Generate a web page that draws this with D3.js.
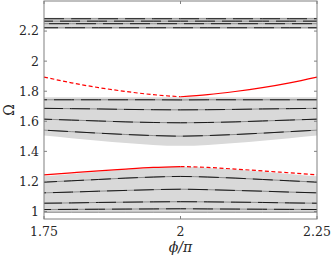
<!DOCTYPE html>
<html>
<head>
<meta charset="utf-8">
<script src="https://cdn.jsdelivr.net/npm/d3@7"></script>
<style>
  body { margin: 0; background: #fff; }
  svg { display: block; }
</style>
</head>
<body>
<div id="chart"></div>
<script>
var phi = [1.75, 1.8, 1.85, 1.9, 1.95, 2, 2.05, 2.1, 2.15, 2.2, 2.25];

// top band (flat)
var topBandLow = [2.216, 2.216, 2.216, 2.216, 2.216, 2.216, 2.216, 2.216, 2.216, 2.216, 2.216];
var topBandHigh = [2.289, 2.289, 2.289, 2.289, 2.289, 2.289, 2.289, 2.289, 2.289, 2.289, 2.289];
var topLines = [
  [2.282, 2.282, 2.282, 2.282, 2.282, 2.282, 2.282, 2.282, 2.282, 2.282, 2.282],
  [2.266, 2.266, 2.266, 2.266, 2.266, 2.266, 2.266, 2.266, 2.266, 2.266, 2.266],
  [2.249, 2.249, 2.249, 2.249, 2.249, 2.249, 2.249, 2.249, 2.249, 2.249, 2.249],
  [2.222, 2.222, 2.222, 2.222, 2.222, 2.222, 2.222, 2.222, 2.222, 2.222, 2.222]
];

// upper red curve (dashed for phi<2, solid for phi>2)
var upperRed = [1.894, 1.856, 1.824, 1.798, 1.777, 1.763, 1.777, 1.798, 1.824, 1.856, 1.894];

// middle band
var midBandHigh = [1.760, 1.760, 1.760, 1.760, 1.760, 1.760, 1.760, 1.760, 1.760, 1.760, 1.760];
var midBandLow = [1.505, 1.487, 1.470, 1.455, 1.443, 1.437, 1.443, 1.455, 1.470, 1.487, 1.505];
var midLines = [
  [1.743, 1.743, 1.743, 1.743, 1.743, 1.742, 1.743, 1.743, 1.743, 1.743, 1.743],
  [1.686, 1.684, 1.682, 1.679, 1.677, 1.676, 1.677, 1.679, 1.682, 1.684, 1.686],
  [1.614, 1.608, 1.602, 1.596, 1.592, 1.590, 1.592, 1.596, 1.602, 1.608, 1.614],
  [1.541, 1.531, 1.521, 1.512, 1.505, 1.501, 1.505, 1.512, 1.521, 1.531, 1.541]
];

// lower red curve (solid for phi<2, dashed for phi>2)
var lowerRed = [1.244, 1.257, 1.270, 1.282, 1.293, 1.299, 1.293, 1.282, 1.270, 1.257, 1.244];

// lower band
var lowBandHigh = [1.235, 1.250, 1.265, 1.279, 1.290, 1.297, 1.290, 1.279, 1.265, 1.250, 1.235];
var lowBandLow = [0.993, 0.993, 0.993, 0.993, 0.993, 0.993, 0.993, 0.993, 0.993, 0.993, 0.993];
var lowLines = [
  [1.195, 1.204, 1.213, 1.222, 1.229, 1.233, 1.229, 1.222, 1.213, 1.204, 1.195],
  [1.124, 1.129, 1.135, 1.140, 1.145, 1.148, 1.145, 1.140, 1.135, 1.129, 1.124],
  [1.055, 1.057, 1.060, 1.062, 1.064, 1.065, 1.064, 1.062, 1.060, 1.057, 1.055],
  [1.013, 1.014, 1.015, 1.016, 1.017, 1.018, 1.017, 1.016, 1.015, 1.014, 1.013]
];
var lowEdge = [0.995, 0.995, 0.995, 0.995, 0.995, 0.995, 0.995, 0.995, 0.995, 0.995, 0.995];

var xTicks = [1.75, 2, 2.25];
var yTicks = [1, 1.2, 1.4, 1.6, 1.8, 2, 2.2];

var width = 332, height = 263;
var margin = {top: 1, right: 15, bottom: 44, left: 44};
var serif = "'DejaVu Serif', serif";

var svg = d3.select("#chart").append("svg")
  .attr("width", width)
  .attr("height", height)
  .style("font-family", serif);

var x = d3.scaleLinear().domain([1.75, 2.25]).range([margin.left, width - margin.right]);
var y = d3.scaleLinear().domain([0.95, 2.4]).range([height - margin.bottom, margin.top]);

// helpers
function pts(vals) {
  return phi.map(function(p, i) { return [p, vals[i]]; });
}
var line = d3.line()
  .x(d => x(d[0]))
  .y(d => y(d[1]))
  .curve(d3.curveNatural);
var area = d3.area()
  .x((d, i) => x(phi[i]))
  .y0(d => y(d[0]))
  .y1(d => y(d[1]))
  .curve(d3.curveNatural);

function band(lo, hi) {
  svg.append("path")
    .attr("d", area(lo.map(function(v, i) { return [v, hi[i]]; })))
    .attr("fill", "#d9d9d9");
}
band(topBandLow, topBandHigh);
band(midBandLow, midBandHigh);
band(lowBandLow, lowBandHigh);

// black lines with grey pieces in between (overlapping branches)
var allLines = topLines.concat(midLines, lowLines);
allLines.forEach(function(vals, k) {
  svg.append("path")
    .attr("d", line(pts(vals)))
    .attr("fill", "none")
    .attr("stroke", "#8c8c8c")
    .attr("stroke-width", 1);
  svg.append("path")
    .attr("d", line(pts(vals)))
    .attr("fill", "none")
    .attr("stroke", "#1a1a1a")
    .attr("stroke-width", 1)
    .attr("stroke-dasharray", "20,7")
    .attr("stroke-dashoffset", (k * 11) % 27);
});
svg.append("path")
  .attr("d", line(pts(lowEdge)))
  .attr("fill", "none")
  .attr("stroke", "#8a8a8a")
  .attr("stroke-width", 1);

// red curves, split at phi = 2
function redPart(vals, left, dashed) {
  var p = pts(vals).filter(d => left ? d[0] <= 2 : d[0] >= 2);
  svg.append("path")
    .attr("d", line(p))
    .attr("fill", "none")
    .attr("stroke", "#ff0000")
    .attr("stroke-width", 1.2)
    .attr("stroke-dasharray", dashed ? "4,2.5" : null);
}
redPart(upperRed, true, true);
redPart(upperRed, false, false);
redPart(lowerRed, true, false);
redPart(lowerRed, false, true);

// frame
var x0 = x.range()[0], x1 = x.range()[1], y0 = y.range()[0], y1 = y.range()[1];
svg.append("rect")
  .attr("x", x0).attr("y", y1)
  .attr("width", x1 - x0).attr("height", y0 - y1)
  .attr("fill", "none")
  .attr("stroke", "#808080")
  .attr("stroke-width", 1);

// inward ticks on all four sides
var tl = 3;
yTicks.forEach(function(t) {
  svg.append("line").attr("x1", x0).attr("x2", x0 + tl).attr("y1", y(t)).attr("y2", y(t)).attr("stroke", "#808080");
  svg.append("line").attr("x1", x1).attr("x2", x1 - tl).attr("y1", y(t)).attr("y2", y(t)).attr("stroke", "#808080");
  svg.append("text")
    .attr("x", x0 - 5).attr("y", y(t))
    .attr("dy", "0.35em")
    .attr("text-anchor", "end")
    .attr("font-size", 12.5)
    .attr("fill", "#262626")
    .text(d3.format("")(t));
});
xTicks.forEach(function(t) {
  svg.append("line").attr("x1", x(t)).attr("x2", x(t)).attr("y1", y0).attr("y2", y0 - tl).attr("stroke", "#808080");
  svg.append("line").attr("x1", x(t)).attr("x2", x(t)).attr("y1", y1).attr("y2", y1 + tl).attr("stroke", "#808080");
  svg.append("text")
    .attr("x", x(t)).attr("y", y0 + 17)
    .attr("text-anchor", "middle")
    .attr("font-size", 12.5)
    .attr("fill", "#262626")
    .text(d3.format("")(t));
});

// axis labels
svg.append("text")
  .attr("x", (x0 + x1) / 2).attr("y", 252)
  .attr("text-anchor", "middle")
  .attr("font-size", 14)
  .attr("font-style", "italic")
  .attr("fill", "#262626")
  .text("ϕ/π");
svg.append("text")
  .attr("transform", "translate(14," + ((y0 + y1) / 2) + ") rotate(-90)")
  .attr("text-anchor", "middle")
  .attr("font-size", 14)
  .attr("fill", "#262626")
  .text("Ω");
</script>
</body>
</html>
